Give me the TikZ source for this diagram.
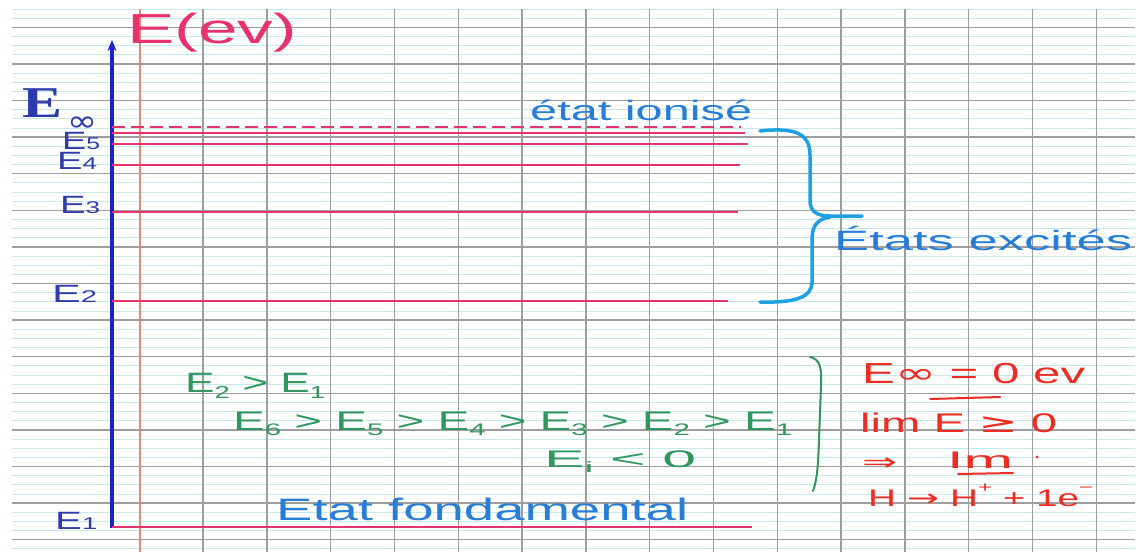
\documentclass[tikz,border=0pt]{standalone}
\usepackage{fontspec}
\setmainfont{Liberation Sans}
\newfontfamily\timesbold{Liberation Serif}[BoldFont={Liberation Serif Bold}]
\newfontfamily\symfont{DejaVu Sans}
\usepackage{graphicx}
\usepackage{tikz}
\usetikzlibrary{arrows.meta}
\definecolor{papercyan}{RGB}{196,232,238}
\definecolor{papergray}{RGB}{158,158,158}
\definecolor{marginred}{RGB}{222,140,120}
\definecolor{axisblue}{RGB}{25,35,200}
\definecolor{levelpink}{RGB}{230,50,110}
\definecolor{lblblue}{RGB}{45,60,170}
\definecolor{txtblue}{RGB}{40,125,215}
\definecolor{bracecyan}{RGB}{30,160,225}
\definecolor{inkgreen}{RGB}{50,150,95}
\definecolor{inkred}{RGB}{235,45,35}
% stretch a text to a width, keeping its height
\newcommand{\fitw}[2]{\resizebox{#1}{\height}{#2}}
\newcommand{\fs}[1]{\fontsize{#1}{#1}\selectfont}
\newcommand{\low}[1]{\raisebox{-0.22em}{\scalebox{0.62}{#1}}}
\newcommand{\up}[1]{\raisebox{0.55em}{\scalebox{0.62}{#1}}}
\tikzset{
  gridthin/.style={papercyan, line width=0.8pt},
  gridthick/.style={papergray, line width=1.4pt},
  axis/.style={axisblue, line width=3.6pt, -{Stealth[length=11pt,width=9pt]}},
  level/.style={levelpink, line width=2.4pt},
  lbl/.style={inner sep=0pt, anchor=base west},
  lvllbl/.style={lbl, text=lblblue, font=\fs{25}},
  bluetxt/.style={lbl, text=txtblue},
  greentxt/.style={lbl, text=inkgreen},
  redtxt/.style={lbl, text=inkred},
  bigbrace/.style={bracecyan, line width=3.5pt, line cap=round},
}
\begin{document}
\begin{tikzpicture}[x=1pt, y=-1pt]
  \useasboundingbox[fill=white] (0,0) rectangle (1138,552);
  % squared paper
  \foreach \k in {0,...,59}
    \draw[gridthin] (12,{9+9.15*\k}) -- (1135,{9+9.15*\k});
  \foreach \k in {0,...,14}
    \draw[gridthick] (12,{27.3+36.6*\k}) -- (1135,{27.3+36.6*\k});
  \foreach \k in {0,...,14}
    \draw[gridthick] ({203+63.8*\k},9) -- ({203+63.8*\k},552);
  \draw[marginred, line width=1.2pt] (140,9) -- (140,552);

  % energy axis
  \coordinate (axisfoot) at (112,528);
  \coordinate (axistop) at (112,40);
  \draw[axis] (axisfoot) -- (axistop);
  \node[lbl, text=levelpink, font=\fs{42}] (title) at (127,43) {\fitw{170pt}{E(ev)}};

  % levels
  \draw[level, dash pattern=on 13pt off 6pt] (112,127) -- (741,127);
  \foreach \y/\xe in {133/745, 144/748, 165/740, 212/738, 301/728, 527/752}
    \draw[level] (112,\y) -- (\xe,\y);

  \node[lbl, text=lblblue, font=\timesbold\fs{44}\bfseries] (einf) at (22,117) {\fitw{40pt}{E}};
  \node[lbl, text=lblblue, font=\symfont\fs{30}] (infty) at (67,131) {\fitw{30pt}{∞}};
  \node[lvllbl] (e5) at (62,149) {\fitw{38pt}{E{\fs{17}5}}};
  \node[lvllbl] (e4) at (57,169) {\fitw{40pt}{E{\fs{17}4}}};
  \node[lvllbl] (e3) at (60,213) {\fitw{40pt}{E{\fs{17}3}}};
  \node[lvllbl] (e2) at (52,302) {\fitw{45pt}{E{\fs{17}2}}};
  \node[lvllbl] (e1) at (55,529) {\fitw{42pt}{E{\fs{17}1}}};

  \node[bluetxt, font=\fs{28}] (ionise) at (530,120) {\fitw{222pt}{état ionisé}};
  \node[bluetxt, font=\fs{28}] (excites) at (834,250) {\fitw{298pt}{États excités}};
  \node[bluetxt, font=\fs{31}] (fonda) at (276,520) {\fitw{412pt}{Etat fondamental}};

  % brace of the excited states
  \draw[bigbrace] (760,131) .. controls (796,127) and (810,134) .. (810,155)
    -- (810,200) .. controls (810,211) and (816,216) .. (830,216) -- (862,216);
  \draw[bigbrace] (830,217) .. controls (817,219) and (812,226) .. (812,240)
    -- (812,282) .. controls (812,297) and (796,303) .. (760,302);

  % green notes
  \node[greentxt, font=\fs{28}] (rel1) at (185,392) {\fitw{140pt}{E\low{2} > E\low{1}}};
  \node[greentxt, font=\fs{27}] (rel2) at (233,430) {\fitw{559pt}{E\low{6} > E\low{5} > E\low{4} > E\low{3} > E\low{2} > E\low{1}}};
  \node[greentxt, font=\fs{24}] (rel3) at (544,467) {\fitw{152pt}{E\low{i} < 0}};
  \draw[inkgreen, line width=2pt, line cap=round] (810,357) .. controls (820,359) and (822,368) .. (821,386)
    -- (819,440) .. controls (818,468) and (817,480) .. (813,491);

  % red notes
  \node[redtxt, font=\fs{29}] (einfzero) at (862,383) {\fitw{223pt}{E{\symfont ∞} = 0 ev}};
  \draw[inkred, line width=2pt, line cap=round] (930,399) -- (1000,397);
  \node[redtxt, font=\fs{27}] (limit) at (860,432) {\fitw{197pt}{lim E {\symfont ≥} 0}};
  \node[redtxt, font=\symfont\fs{24}] (implies) at (862,470) {\fitw{35pt}{⇒}};
  \node[redtxt, font=\fs{24}] (ionisation) at (947,468) {\fitw{66pt}{Im}};
  \draw[inkred, line width=2pt, line cap=round] (958,474) -- (1013,473);
  \fill[inkred] (1037,457) circle (1.5pt);
  \node[redtxt, font=\fs{24}] (reaction) at (868,506) {\fitw{225pt}{H {\symfont →} H\up{+} + 1e\up{−}}};
\end{tikzpicture}
\end{document}
